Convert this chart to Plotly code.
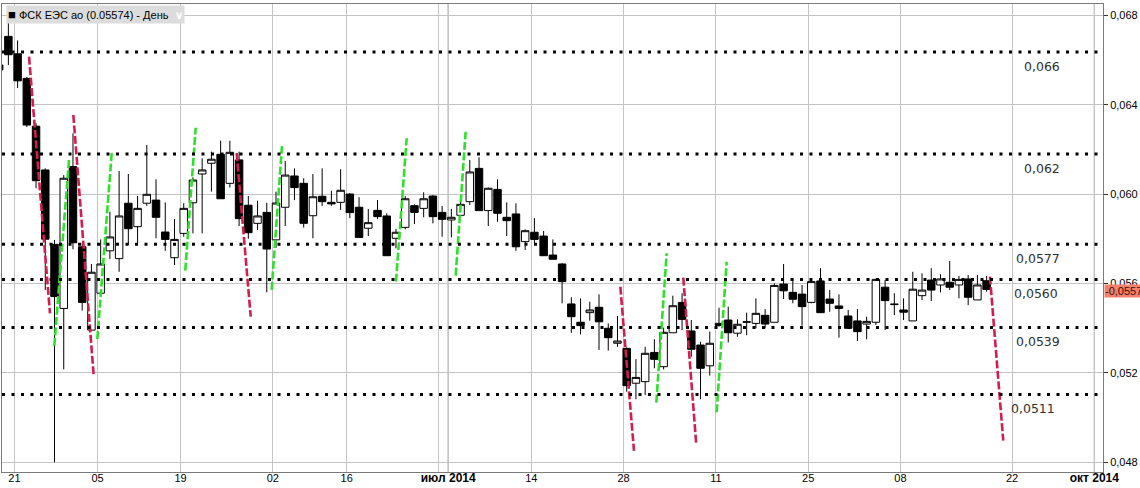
import plotly.graph_objects as go

# ---- data: daily candles, index 0 = 21 Apr 2014 (trading-day index) ----
day_index = list(range(-2, 106))
opens = [0.06579, 0.06707, 0.06629, 0.06519, 0.06305, 0.06109, 0.05776, 0.05489, 0.06124, 0.05765,
         0.05392, 0.05557, 0.05747, 0.05712, 0.05960, 0.05855, 0.05960, 0.05974, 0.05831, 0.05716,
         0.05825, 0.05962, 0.06091, 0.06139, 0.06179, 0.06049, 0.06154, 0.05951, 0.05870, 0.05919,
         0.05796, 0.05942, 0.06082, 0.06049, 0.05904, 0.05991, 0.05964, 0.05964, 0.06001, 0.05942,
         0.05848, 0.05928, 0.05903, 0.05803, 0.05852, 0.05949, 0.05937, 0.05992, 0.05919, 0.05885,
         0.05906, 0.05967, 0.06116, 0.05927, 0.06022, 0.05897, 0.05912, 0.05788, 0.05830, 0.05813,
         0.05728, 0.05688, 0.05509, 0.05427, 0.05470, 0.05494, 0.05400, 0.05333, 0.05310, 0.05154,
         0.05161, 0.05292, 0.05228, 0.05380, 0.05516, 0.05388, 0.05325, 0.05232, 0.05422, 0.05437,
         0.05378, 0.05427, 0.05422, 0.05458, 0.05427, 0.05598, 0.05561, 0.05553, 0.05516, 0.05612,
         0.05531, 0.05500, 0.05455, 0.05433, 0.05419, 0.05427, 0.05584, 0.05506, 0.05482, 0.05433,
         0.05546, 0.05616, 0.05594, 0.05606, 0.05594, 0.05621, 0.05527, 0.05613]
highs = [0.06585, 0.06810, 0.06689, 0.06525, 0.06318, 0.06116, 0.05795, 0.06086, 0.06273, 0.05781,
         0.05688, 0.05798, 0.05922, 0.06104, 0.06091, 0.05992, 0.06221, 0.06067, 0.05964, 0.05889,
         0.05960, 0.06076, 0.06161, 0.06191, 0.06240, 0.06240, 0.06191, 0.05992, 0.05971, 0.05962,
         0.06012, 0.06149, 0.06116, 0.06072, 0.06091, 0.06116, 0.06016, 0.06112, 0.06005, 0.05987,
         0.05934, 0.05974, 0.05915, 0.05845, 0.05992, 0.05955, 0.06009, 0.05997, 0.05948, 0.05934,
         0.05967, 0.06154, 0.06166, 0.06031, 0.06067, 0.05964, 0.05960, 0.05843, 0.05893, 0.05836,
         0.05798, 0.05691, 0.05539, 0.05534, 0.05519, 0.05552, 0.05422, 0.05455, 0.05315, 0.05262,
         0.05317, 0.05351, 0.05403, 0.05546, 0.05557, 0.05437, 0.05340, 0.05385, 0.05492, 0.05497,
         0.05440, 0.05470, 0.05534, 0.05486, 0.05601, 0.05688, 0.05624, 0.05594, 0.05619, 0.05669,
         0.05571, 0.05552, 0.05482, 0.05486, 0.05452, 0.05622, 0.05616, 0.05557, 0.05534, 0.05653,
         0.05646, 0.05669, 0.05642, 0.05701, 0.05634, 0.05639, 0.05639, 0.05634]
lows = [0.06550, 0.06579, 0.06476, 0.06301, 0.06027, 0.05571, 0.04800, 0.05216, 0.05754, 0.05479,
        0.05392, 0.05550, 0.05710, 0.05653, 0.05773, 0.05773, 0.05948, 0.05803, 0.05747, 0.05683,
        0.05810, 0.05825, 0.05825, 0.06012, 0.05980, 0.06030, 0.05858, 0.05801, 0.05840, 0.05561,
        0.05760, 0.05858, 0.05974, 0.05851, 0.05803, 0.05948, 0.05948, 0.05930, 0.05893, 0.05807,
        0.05813, 0.05889, 0.05725, 0.05758, 0.05843, 0.05867, 0.05897, 0.05870, 0.05810, 0.05807,
        0.05906, 0.05952, 0.05927, 0.05858, 0.05877, 0.05813, 0.05747, 0.05751, 0.05781, 0.05725,
        0.05709, 0.05512, 0.05380, 0.05373, 0.05434, 0.05303, 0.05300, 0.05317, 0.05116, 0.05082,
        0.05101, 0.05221, 0.05216, 0.05380, 0.05392, 0.05273, 0.05082, 0.05188, 0.05407, 0.05337,
        0.05362, 0.05369, 0.05400, 0.05400, 0.05427, 0.05531, 0.05512, 0.05412, 0.05512, 0.05470,
        0.05474, 0.05358, 0.05400, 0.05343, 0.05351, 0.05415, 0.05392, 0.05459, 0.05437, 0.05433,
        0.05527, 0.05522, 0.05561, 0.05571, 0.05534, 0.05504, 0.05527, 0.05564]
closes = [0.06557, 0.06625, 0.06508, 0.06310, 0.06061, 0.05799, 0.05542, 0.06072, 0.05783, 0.05516,
          0.05651, 0.05688, 0.05809, 0.05903, 0.05846, 0.05937, 0.06000, 0.05897, 0.05798, 0.05798,
          0.05937, 0.06064, 0.06109, 0.06157, 0.05980, 0.06188, 0.05891, 0.05828, 0.05903, 0.05755,
          0.05961, 0.06086, 0.06030, 0.05870, 0.05989, 0.05967, 0.05957, 0.06018, 0.05918, 0.05807,
          0.05873, 0.05900, 0.05725, 0.05830, 0.05980, 0.05919, 0.05980, 0.05900, 0.05888, 0.05897,
          0.05955, 0.06100, 0.05927, 0.06027, 0.05915, 0.05882, 0.05765, 0.05837, 0.05798, 0.05725,
          0.05709, 0.05609, 0.05452, 0.05412, 0.05482, 0.05429, 0.05358, 0.05343, 0.05143, 0.05180,
          0.05288, 0.05261, 0.05382, 0.05501, 0.05440, 0.05306, 0.05221, 0.05333, 0.05413, 0.05380,
          0.05418, 0.05429, 0.05467, 0.05419, 0.05592, 0.05568, 0.05530, 0.05497, 0.05609, 0.05470,
          0.05512, 0.05489, 0.05400, 0.05385, 0.05431, 0.05619, 0.05524, 0.05508, 0.05472, 0.05575,
          0.05571, 0.05571, 0.05621, 0.05584, 0.05619, 0.05539, 0.05594, 0.05574]
last_close = 0.05574

# ---- x-axis ticks (in trading-day index units) ----
tick_positions = [-0.34, 8.66, 17.66, 27.66, 35.66, 45.66, 46.66, 55.66, 65.66, 75.66, 85.66, 95.66, 107.75, 116.67]
tick_labels = ["21", "05", "19", "02", "16", "",
               "<span style='font-size:12px'><b>июл 2014</b></span>",
               "14", "28", "11", "25", "08", "22",
               "<span style='font-size:12px'><b>окт 2014</b></span>"]
month_lines = [46.66, 116.67]

# ---- y-axis ticks ----
y_ticks = [0.048, 0.052, 0.056, 0.060, 0.064, 0.068]
y_tick_labels = ["0,048", "0,052", "0,056", "0,060", "0,064", "0,068"]

# ---- horizontal support/resistance levels ----
levels = [0.06637, 0.06180, 0.05776, 0.05619, 0.05403, 0.05104]
level_labels = ["0,066", "0,062", "0,0577", "0,0560", "0,0539", "0,0511"]
level_label_x = [113.2, 113.2, 113.2, 113.0, 113.2, 112.6]

# ---- dashed trend projections ----
red_x0 = [1.24, 6.04, 23.74, 65.31, 72.13, 105.36]
red_y0 = [0.06616, 0.06355, 0.06184, 0.05586, 0.05627, 0.05631]
red_x1 = [3.51, 8.25, 25.26, 66.79, 73.53, 106.80]
red_y1 = [0.05467, 0.05186, 0.05452, 0.04851, 0.04884, 0.04897]

green_x0 = [3.98, 8.64, 18.17, 27.53, 41.00, 47.47, 69.21, 75.75]
green_y0 = [0.05321, 0.05352, 0.05658, 0.05572, 0.05609, 0.05636, 0.05067, 0.05024]
green_x1 = [5.57, 10.20, 19.30, 28.65, 42.16, 48.55, 70.33, 76.83]
green_y1 = [0.06154, 0.06184, 0.06298, 0.06216, 0.06251, 0.06280, 0.05736, 0.05698]


def segments(x0, y0, x1, y1):
    xs, ys = [], []
    for a, b, c, d in zip(x0, y0, x1, y1):
        xs += [a, c, None]
        ys += [b, d, None]
    return xs, ys


fig = go.Figure()
fig.add_trace(go.Candlestick(
    x=day_index, open=opens, high=highs, low=lows, close=closes,
    increasing=dict(line=dict(color="black", width=1), fillcolor="white"),
    decreasing=dict(line=dict(color="black", width=1), fillcolor="black"),
    whiskerwidth=0, hoverinfo="skip", showlegend=False,
))

rx, ry = segments(red_x0, red_y0, red_x1, red_y1)
gx, gy = segments(green_x0, green_y0, green_x1, green_y1)
fig.add_trace(go.Scatter(x=rx, y=ry, mode="lines", line=dict(color="#D01E4E", width=2.6, dash="8px,2.5px"),
                         hoverinfo="skip", showlegend=False))
fig.add_trace(go.Scatter(x=gx, y=gy, mode="lines", line=dict(color="#2EE02A", width=2.6, dash="8px,2.5px"),
                         hoverinfo="skip", showlegend=False))

shapes = []
for m in month_lines:
    shapes.append(dict(type="line", xref="x", yref="paper", x0=m, x1=m, y0=0, y1=1,
                       line=dict(color="#707070", width=1), layer="below"))
for lv in levels:
    shapes.append(dict(type="line", xref="paper", yref="y", x0=0, x1=1, y0=lv, y1=lv,
                       line=dict(color="black", width=3, dash="3px,6.5px"), layer="above"))

annotations = []
for lv, lab, lx in zip(levels, level_labels, level_label_x):
    annotations.append(dict(x=lx, y=lv, xref="x", yref="y", text=lab, showarrow=False,
                            xanchor="right", yanchor="middle", yshift=-14,
                            font=dict(family="DejaVu Sans", size=12.5, color="#303030")))

annotations.append(dict(
    x=0, y=1, xref="paper", yref="paper", xanchor="left", yanchor="top", xshift=4, yshift=-1,
    text="<span style='font-size:13px'>■</span> ФСК ЕЭС ао (0.05574) - День  <span style='color:white'><b>∨</b></span>",
    showarrow=False, bgcolor="#dcdcdc", borderpad=1,
    font=dict(family="Liberation Sans", size=11, color="black")))

annotations.append(dict(
    x=1, y=last_close, xref="paper", yref="y", xanchor="left", yanchor="middle", xshift=1, yshift=-2,
    text="-0,0557", showarrow=False, bgcolor="#F2806C", borderpad=0,
    font=dict(family="Liberation Sans", size=11, color="#3a1208")))

fig.update_layout(
    width=1140, height=488,
    margin=dict(l=2, r=37, t=4, b=16),
    paper_bgcolor="white", plot_bgcolor="white",
    showlegend=False, boxgap=0.19, boxgroupgap=0,
    shapes=shapes, annotations=annotations,
    xaxis=dict(range=[-1.69, 117.61], tickmode="array", tickvals=tick_positions, ticktext=tick_labels,
               showgrid=True, gridcolor="#c4c4c4", gridwidth=1, ticks="", zeroline=False,
               showline=True, linecolor="#7a7a7a", linewidth=1, mirror=True,
               rangeslider=dict(visible=False), ticklabelstandoff=-4,
               tickfont=dict(family="Liberation Sans", size=11, color="black")),
    yaxis=dict(range=[0.047565, 0.068521], side="right", tickmode="array", tickvals=y_ticks,
               ticktext=y_tick_labels, showgrid=True, gridcolor="#c4c4c4", gridwidth=1,
               ticks="outside", ticklen=4, tickcolor="#333333", zeroline=False,
               showline=True, linecolor="#7a7a7a", linewidth=1, mirror=True,
               tickfont=dict(family="Liberation Sans", size=11, color="black")),
)

fig.write_html("out.html", config={"displayModeBar": False},
               post_script="document.body.style.margin='0';document.body.style.overflow='hidden';")
